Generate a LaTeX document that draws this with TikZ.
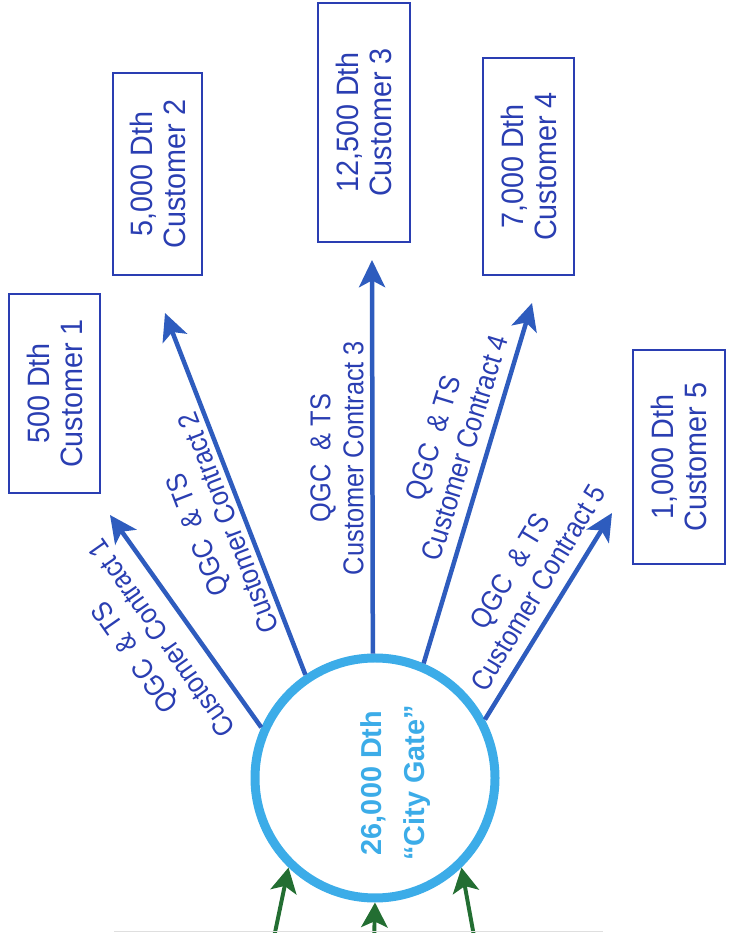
\documentclass[tikz,border=0pt]{standalone}
\usepackage{fontspec}
\setmainfont{Liberation Sans}
\newfontfamily\boxfont{Liberation Sans}[FakeStretch=0.93]
\newfontfamily\flowfont{Liberation Sans}[FakeStretch=0.885]
\usepackage{tikz}
\usetikzlibrary{%
  arrows.meta%
  ,calc%
  ,positioning%
}
\definecolor{custblue}{RGB}{42,62,178}
\definecolor{flowblue}{RGB}{46,92,190}
\definecolor{gateblue}{RGB}{60,172,232}
\definecolor{feedgreen}{RGB}{35,110,50}
\tikzset{%
  customer/.style={draw=custblue,line width=1.4pt,rotate=90,inner sep=0pt,
    align=center,text=custblue,font=\boxfont\fontsize{22}{23.5}\selectfont},
  contract/.style={rotate=#1,align=center,text=custblue,
    font=\flowfont\fontsize{20.4}{23.4}\selectfont},
  flow/.style={draw=flowblue,line width=3.2pt,
    -{Stealth[length=0.68cm,width=0.65cm,inset=0.17cm]}},
  feed/.style={draw=feedgreen,line width=2.8pt,
    -{Stealth[length=0.62cm,width=0.66cm,inset=0.15cm]}},
}

\begin{document}
\begin{tikzpicture}
      \useasboundingbox (0,0) rectangle (18.2,23.325);
      %% city gate
      \node[circle,draw=gateblue,line width=0.225cm,minimum size=6cm,inner sep=0pt] (gate) at (9.375,3.875) {};
      \node[rotate=90,align=center,text=gateblue,font=\bfseries\fontsize{20.5}{30.5}\selectfont] (gatetext) at (9.89,3.75) {26,000 Dth\\“City Gate”};
      %% customers
      \node[customer,minimum width=4.975cm,minimum height=2.275cm] (cust1) at (1.3625,13.4875) {500 Dth\\Customer 1};
      \node[customer,minimum width=5.05cm,minimum height=2.225cm] (cust2) at (3.9375,18.975) {5,000 Dth\\Customer 2};
      \node[customer,minimum width=5.975cm,minimum height=2.3cm] (cust3) at (9.1,20.2625) {12,500 Dth\\Customer 3};
      \node[customer,minimum width=5.425cm,minimum height=2.275cm] (cust4) at (13.2125,19.1625) {7,000 Dth\\Customer 4};
      \node[customer,minimum width=5.35cm,minimum height=2.3cm] (cust5) at (16.975,11.9) {1,000 Dth\\Customer 5};
      %% arrow tips
      \coordinate (t1) at (2.75,10.45);
      \coordinate (t2) at (4.125,15.5);
      \coordinate (t3) at (9.3,16.825);
      \coordinate (t4) at (13.3,15.75);
      \coordinate (t5) at (15.3,10.5);
      \draw[flow] (gate.156) -- (t1);
      \draw[flow] (gate.124) -- (t2);
      \draw[flow] (gate.91) -- (t3);
      \draw[flow] (gate.67) -- (t4);
      \draw[flow] (gate.28) -- (t5);
      %% contract labels
      \node[contract=125] (con1) at (3.7,7.125) {QGC\ \ \& TS\\Customer Contract 1};
      \node[contract=111] (con2) at (5.315,10.1) {QGC\ \ \& TS\\Customer Contract 2};
      \node[contract=90] (con3) at (8.425,11.875) {QGC\ \ \& TS\\Customer Contract 3};
      \node[contract=73] (con4) at (11.225,12.25) {QGC\ \ \& TS\\Customer Contract 4};
      \node[contract=59] (con5) at (13.1,8.8375) {QGC\ \ \& TS\\Customer Contract 5};
      %% supply into the gate
      \coordinate (s1) at (6.81,-0.3);
      \coordinate (s2) at (9.35,-0.3);
      \coordinate (s3) at (11.89,-0.3);
      \draw[feed] (s1) -- (gate.226);
      \draw[feed] (s2) -- (gate.270);
      \draw[feed] (s3) -- (gate.314);
      \draw[gray!25,line width=0.6pt] (2.85,0.03) -- (15.07,0.03);
\end{tikzpicture}
\end{document}
